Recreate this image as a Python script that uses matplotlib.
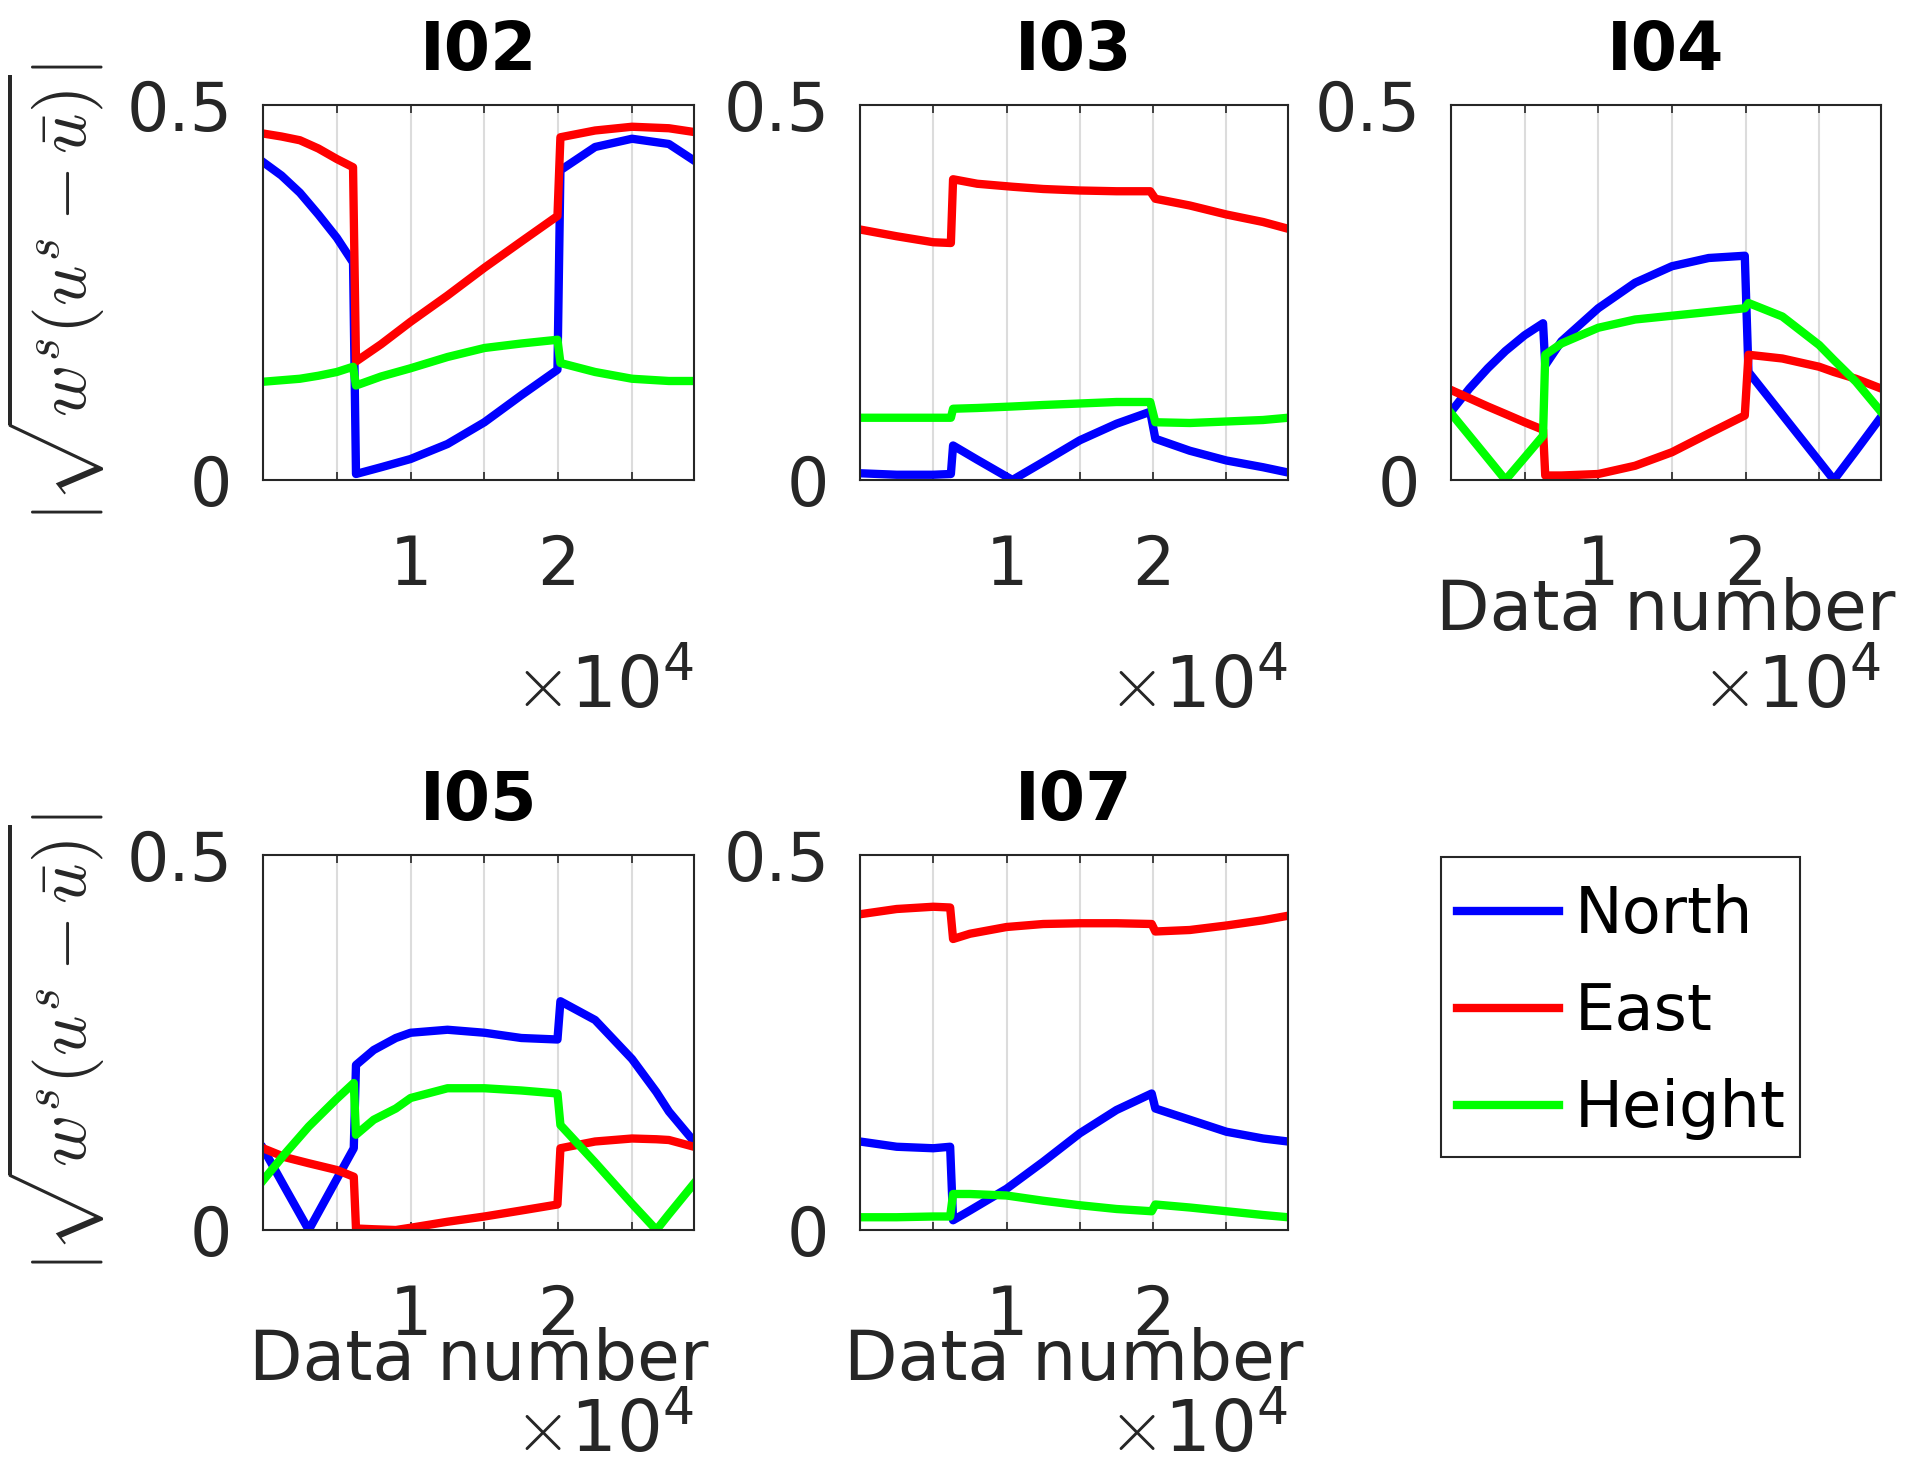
import numpy as np
import matplotlib
matplotlib.use("Agg")
import matplotlib.pyplot as plt
from matplotlib.patches import Rectangle

plt.rcParams['font.family'] = ['DejaVu Sans']
plt.rcParams['mathtext.fontset'] = 'cm'

# ------------------ Data ------------------
series_names = ["North", "East", "Height"]
series_colors = ["#0000ff", "#ff0000", "#00ff00"]

# I02
x_i02 = [0, 1250, 2500, 3750, 5000, 6100, 6300, 8000, 10000, 12500, 15000, 17500,
         19950, 20150, 22500, 25000, 27500, 29200]
north_i02 = [0.424, 0.406, 0.383, 0.354, 0.323, 0.290, 0.008, 0.017, 0.028, 0.048, 0.077, 0.113,
             0.147, 0.413, 0.444, 0.455, 0.448, 0.426]
east_i02 = [0.462, 0.458, 0.453, 0.442, 0.428, 0.417, 0.158, 0.181, 0.211, 0.246, 0.283, 0.318,
            0.352, 0.457, 0.466, 0.471, 0.469, 0.464]
height_i02 = [0.131, 0.133, 0.135, 0.139, 0.144, 0.151, 0.126, 0.138, 0.149, 0.164, 0.176, 0.182,
              0.187, 0.156, 0.144, 0.135, 0.132, 0.132]

# I03
x_i03 = [0, 2500, 5000, 6200, 6350, 8000, 10400, 12500, 15000, 17500, 19800,
         20150, 22500, 25000, 27500, 29200]
north_i03 = [0.009, 0.007, 0.007, 0.008, 0.046, 0.027, 0.000, 0.024, 0.053, 0.075, 0.091,
             0.055, 0.039, 0.026, 0.017, 0.010]
east_i03 = [0.334, 0.325, 0.317, 0.316, 0.401, 0.395, 0.391, 0.388, 0.386, 0.385, 0.385,
            0.375, 0.366, 0.354, 0.344, 0.335]
height_i03 = [0.083, 0.083, 0.083, 0.083, 0.095, 0.096, 0.098, 0.100, 0.102, 0.104, 0.104,
              0.077, 0.076, 0.078, 0.080, 0.083]

# I04
x_i04 = [0, 1250, 2500, 3700, 5000, 6250, 6400, 7500, 10000, 12500, 15000, 17500,
         19950, 20200, 22500, 25000, 26000, 27500, 29200]
north_i04 = [0.091, 0.122, 0.149, 0.172, 0.193, 0.209, 0.153, 0.185, 0.229, 0.263, 0.285, 0.296,
             0.299, 0.144, 0.087, 0.025, 0.000, 0.039, 0.084]
east_i04 = [0.120, 0.109, 0.098, 0.088, 0.077, 0.067, 0.006, 0.006, 0.008, 0.019, 0.037, 0.062,
            0.086, 0.167, 0.162, 0.151, 0.144, 0.135, 0.122]
height_i04 = [0.089, 0.059, 0.029, 0.000, 0.030, 0.059, 0.167, 0.182, 0.203, 0.214, 0.219, 0.224,
              0.229, 0.236, 0.218, 0.180, 0.160, 0.131, 0.091]

# I05
x_i05 = [0, 1500, 3100, 5000, 6150, 6300, 7500, 9000, 10000, 12500, 15000, 17500,
         19950, 20150, 22500, 25000, 26650, 27500, 29200]
north_i05 = [0.109, 0.056, 0.000, 0.068, 0.109, 0.220, 0.240, 0.256, 0.263, 0.267, 0.263, 0.256,
             0.254, 0.305, 0.280, 0.228, 0.184, 0.158, 0.118]
east_i05 = [0.109, 0.097, 0.089, 0.080, 0.071, 0.002, 0.001, 0.000, 0.003, 0.011, 0.018, 0.026,
            0.034, 0.109, 0.118, 0.122, 0.121, 0.120, 0.111]
height_i05 = [0.066, 0.102, 0.138, 0.175, 0.196, 0.127, 0.147, 0.162, 0.176, 0.189, 0.189, 0.186,
              0.182, 0.140, 0.090, 0.035, 0.000, 0.021, 0.062]

# I07
x_i07 = [0, 2500, 5000, 6150, 6350, 7500, 10000, 12500, 15000, 17500, 19900,
         20150, 22500, 25000, 27500, 29200]
north_i07 = [0.118, 0.111, 0.109, 0.111, 0.013, 0.026, 0.055, 0.091, 0.129, 0.160, 0.182,
             0.162, 0.147, 0.131, 0.122, 0.118]
east_i07 = [0.421, 0.428, 0.431, 0.430, 0.388, 0.395, 0.404, 0.408, 0.409, 0.409, 0.408,
            0.398, 0.400, 0.406, 0.413, 0.419]
height_i07 = [0.017, 0.017, 0.018, 0.018, 0.048, 0.048, 0.046, 0.039, 0.033, 0.028, 0.025,
              0.034, 0.030, 0.025, 0.020, 0.017]

station_names = ["I02", "I03", "I04", "I05", "I07"]
x_ticks = [0, 5000, 10000, 15000, 20000, 25000]
x_tick_labels = ["", "", "1", "", "2", ""]
y_ticks = [0, 0.5]
y_tick_labels = ["0", "0.5"]

panels = [
    (x_i02, [north_i02, east_i02, height_i02]),
    (x_i03, [north_i03, east_i03, height_i03]),
    (x_i04, [north_i04, east_i04, height_i04]),
    (x_i05, [north_i05, east_i05, height_i05]),
    (x_i07, [north_i07, east_i07, height_i07]),
]

# ------------------ Layout (pixels of the 1915x1468 figure) ------------------
W, H = 1915, 1468
col_left = [263, 860, 1451]
col_width = [431, 428, 430]
row_top = [105, 855]
ax_h = 375
positions = [(0, 0), (0, 1), (0, 2), (1, 0), (1, 1)]
show_ylabel = [True, False, False, True, False]
show_xlabel = [False, False, True, True, True]
offset_y = [-0.55, -0.535]   # where the x10^4 sits, per row

dark = "#262626"
ylabel_text = r'$|\sqrt{w^s(u^s-\bar{u})}|$'

fig = plt.figure(figsize=(W / 100, H / 100), dpi=100)

lines_for_legend = None
for i, (name, (xv, ys)) in enumerate(zip(station_names, panels)):
    r, c = positions[i]
    left = col_left[c] / W
    bottom = 1 - (row_top[r] + ax_h) / H
    ax = fig.add_axes([left, bottom, col_width[c] / W, ax_h / H])

    handles = []
    for yv, lab, col in zip(ys, series_names, series_colors):
        h, = ax.plot(xv, yv, color=col, lw=6, label=lab)
        handles.append(h)
    if lines_for_legend is None:
        lines_for_legend = handles

    ax.set_xlim(0, 29200)
    ax.set_ylim(0, 0.5)
    ax.set_xticks(x_ticks)
    ax.set_xticklabels(x_tick_labels)
    ax.set_yticks(y_ticks)
    ax.set_yticklabels(y_tick_labels)
    ax.tick_params(axis='x', direction='in', top=True, length=6, width=1.2,
                   labelsize=48, pad=38, colors=dark)
    ax.tick_params(axis='y', direction='in', right=True, length=6, width=1.2,
                   labelsize=48, pad=22, colors=dark)
    for lbl in ax.get_yticklabels():
        lbl.set_va('center_baseline')
    ax.grid(True, axis='x', color='#dcdcdc', lw=1.5)
    ax.set_axisbelow(True)
    for sp in ax.spines.values():
        sp.set_color(dark)
        sp.set_linewidth(1.5)

    ax.set_title(name, fontsize=48, fontweight='bold', pad=25)
    ax.text(1.0, offset_y[r], r'$\times\mathregular{10^4}$', transform=ax.transAxes,
            ha='right', va='center', fontsize=52, color=dark)
    if show_xlabel[i]:
        ax.text(0.5, -0.347, "Data number", transform=ax.transAxes,
                ha='center', va='center', fontsize=50, color=dark)
    if show_ylabel[i]:
        ax.text(-0.483, 0.5, ylabel_text, transform=ax.transAxes, rotation=90,
                ha='center', va='center', fontsize=51, color=dark)

# legend box drawn at the reference position, entries placed inside it
fig.patches.append(Rectangle((1441 / W, 1 - 1157 / H), 359 / W, 300 / H,
                             transform=fig.transFigure, facecolor='white',
                             edgecolor=dark, lw=1.5, zorder=1))
leg = fig.legend(lines_for_legend, series_names, loc='center left',
                 bbox_to_anchor=(1457 / W, 1 - 1012 / H), borderaxespad=0,
                 fontsize=46, handlelength=1.6, handletextpad=0.25,
                 labelspacing=0.55, borderpad=0, frameon=False)
leg.set_zorder(2)

fig.savefig("out.png", dpi=100)
